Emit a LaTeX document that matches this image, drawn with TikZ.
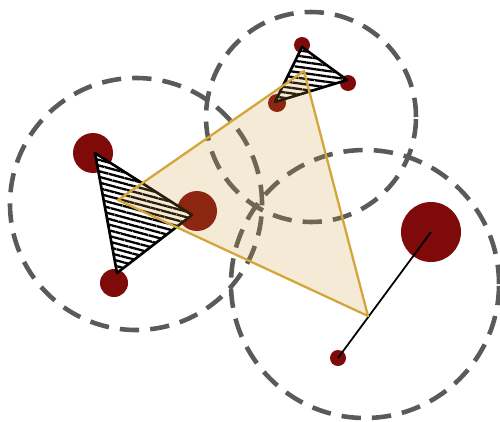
\documentclass[tikz,border=0pt]{standalone}
\usetikzlibrary{patterns.meta}
\definecolor{dotred}{HTML}{7F0A0A}
\definecolor{rangegray}{HTML}{5A5A5A}
\definecolor{hullfill}{HTML}{C8962D}
\definecolor{hullline}{HTML}{D4A53A}
\tikzset{
  rangecircle/.style={rangegray,line width=2.6pt,dash pattern=on 11pt off 6.3pt},
  agent/.style={fill=dotred},
  cluster/.style={draw=black,line width=1.5pt,line join=round,fill=white},
  hull/.style={draw=hullline,line width=1.3pt,fill=hullfill,fill opacity=0.2,line join=round}
}
\begin{document}
\begin{tikzpicture}
\useasboundingbox (0,0) rectangle (10,8.42);
% communication ranges
\foreach \x/\y/\r in {2.72/4.34/2.52, 6.22/6.08/2.1, 7.30/2.74/2.68}
  \draw[rangecircle] (\x,\y) circle (\r);
% agents
\foreach \x/\y/\r in {1.86/5.36/0.40, 2.28/2.76/0.28, 3.94/4.20/0.40,
                      6.04/7.52/0.16, 6.96/6.76/0.16, 5.54/6.36/0.18,
                      8.62/3.78/0.60, 6.76/1.26/0.16}
  \fill[agent] (\x,\y) circle (\r);
% local clusters
\draw[cluster,postaction={pattern={Lines[angle=-15,distance=3.1pt,line width=1.3pt]}}]
  (1.90,5.36) -- (2.34,2.96) -- (3.84,4.12) -- cycle;
\draw[cluster,postaction={pattern={Lines[angle=-8,distance=3.1pt,line width=1.3pt]}}]
  (6.04,7.48) -- (6.94,6.82) -- (5.50,6.38) -- cycle;
\coordinate (pa) at (8.62,3.78);
\coordinate (pb) at (6.76,1.26);
\draw[black,line width=1pt] (pa) -- (pb);
% global hull
\draw[hull] (2.36,4.42) -- (6.08,7.00) -- (7.36,2.10) -- cycle;
\end{tikzpicture}
\end{document}
